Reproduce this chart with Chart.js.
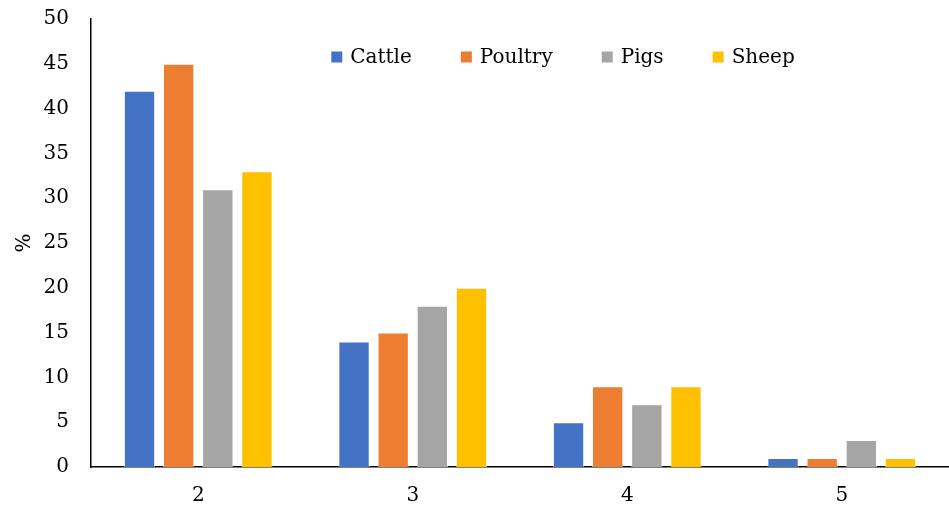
<!DOCTYPE html>
<html>
<head>
<meta charset="utf-8">
<script src="https://cdn.jsdelivr.net/npm/chart.js@4.4.1/dist/chart.umd.min.js"></script>
<style>
  html, body { margin: 0; padding: 0; background: #fff; }
  #wrap { width: 949px; height: 509px; }
</style>
</head>
<body>
<div id="wrap"><canvas id="chart"></canvas></div>
<script>
// Dados do gráfico
const categories = ['2', '3', '4', '5'];
const cattle = [42, 14, 5, 1];
const poultry = [45, 15, 9, 1];
const pigs = [31, 18, 7, 3];
const sheep = [33, 20, 9, 1];
const yTicks = [0, 5, 10, 15, 20, 25, 30, 35, 40, 45, 50];

const FONT = '"DejaVu Serif", "Liberation Serif", serif';
const SIZE = 20;
Chart.defaults.font.family = FONT;
Chart.defaults.color = '#000';

// Legenda desenhada dentro da área do gráfico
const innerLegend = {
    id: 'innerLegend',
    afterDraw(chart) {
        const ctx = chart.ctx;
        ctx.save();
        ctx.font = SIZE + 'px ' + FONT;
        ctx.textBaseline = 'middle';
        const box = 11, gap = 8, space = 49;
        const items = chart.data.datasets.map(d => ({
            label: d.label, color: d.backgroundColor, w: ctx.measureText(d.label).width
        }));
        let total = 0;
        items.forEach((it, i) => { total += box + gap + it.w + (i < items.length - 1 ? space : 0); });
        let x = 563 - total / 2;
        const y = 57;
        items.forEach(it => {
            ctx.fillStyle = it.color;
            ctx.fillRect(x, y - box / 2, box, box);
            ctx.fillStyle = '#000';
            ctx.fillText(it.label, x + box + gap, y + 1);
            x += box + gap + it.w + space;
        });
        ctx.restore();
    }
};

const config = {
    type: 'bar',
    data: {
        labels: categories,
        datasets: [
            { label: 'Cattle', data: cattle, backgroundColor: '#4472c4' },
            { label: 'Poultry', data: poultry, backgroundColor: '#ed7d31' },
            { label: 'Pigs', data: pigs, backgroundColor: '#a5a5a5' },
            { label: 'Sheep', data: sheep, backgroundColor: '#ffc000' }
        ]
    },
    options: {
        responsive: true,
        maintainAspectRatio: false,
        animation: false,
        layout: { padding: { top: 19, right: 0, left: 0, bottom: 0 } },
        datasets: {
            bar: {
                categoryPercentage: 0.73,
                barPercentage: 0.8,
                borderColor: 'rgba(255,255,255,0.6)',
                borderWidth: 1
            }
        },
        plugins: {
            legend: { display: false },
            tooltip: { enabled: false }
        },
        scales: {
            x: {
                grid: { display: false, drawTicks: false },
                border: { display: true, color: '#000', width: 1.5 },
                ticks: { font: { size: SIZE }, padding: 17 },
                afterFit(scale) { scale.height = 42; scale.paddingLeft = 0; scale.paddingRight = 0; }
            },
            y: {
                min: 0,
                max: 50,
                afterBuildTicks(scale) { scale.ticks = yTicks.map(v => ({ value: v })); },
                grid: { display: false, drawTicks: false },
                border: { display: true, color: '#000', width: 1.5 },
                ticks: { font: { size: SIZE }, padding: 22 },
                title: { display: true, text: '%', font: { size: SIZE }, padding: { top: 13, bottom: 0 } },
                afterFit(scale) { scale.width = 91; scale.paddingTop = 0; scale.paddingBottom = 0; }
            }
        }
    },
    plugins: [innerLegend]
};

const chart = new Chart(document.getElementById('chart'), config);
</script>
</body>
</html>
